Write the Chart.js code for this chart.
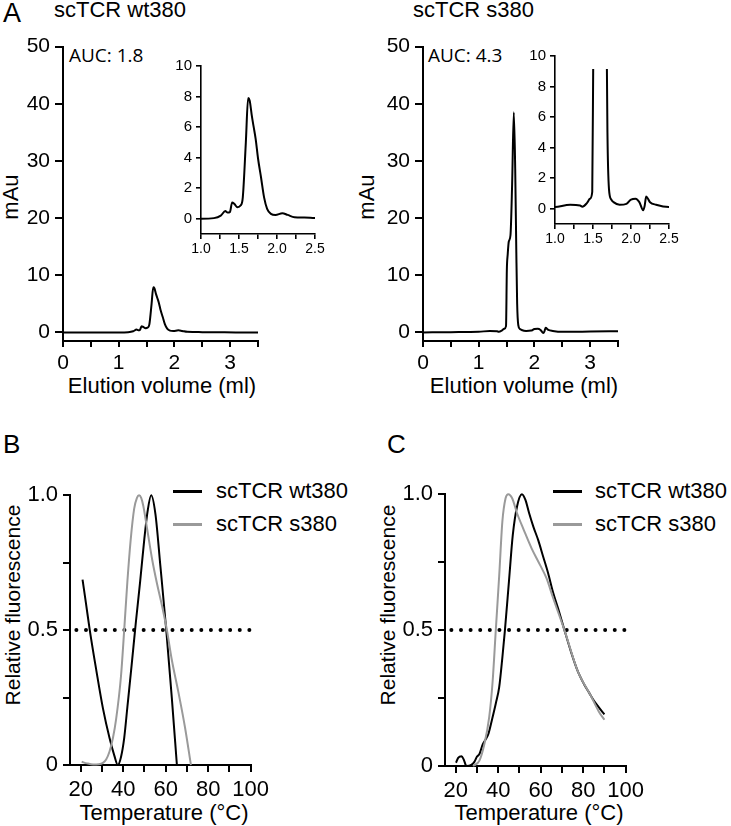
<!DOCTYPE html>
<html>
<head>
<meta charset="utf-8">
<script src="https://cdn.jsdelivr.net/npm/chart.js@4"></script>
<style>
  body { margin: 0; background: #fff; width: 731px; height: 826px; position: relative; overflow: hidden;
         font-family: "Liberation Sans", Arial, sans-serif; color: #000; }
  canvas { position: absolute; }
  .t { position: absolute; white-space: nowrap; line-height: 1; }
  .c { transform: translateX(-50%); }
  .r { transform: translate(-50%, -50%) rotate(-90deg); }
  .auc { font-family: "Open Sans", sans-serif; font-size: 19px; }
  .leg { position: absolute; height: 3px; width: 29px; }
</style>
</head>
<body>

<div class="t" style="left:3px;top:0px;font-size:27px">A</div>
<div class="t" style="left:54px;top:-1px;font-size:22px">scTCR wt380</div>
<div class="t" style="left:413px;top:-1px;font-size:22px">scTCR s380</div>
<div class="t auc" style="left:69px;top:46px">AUC: 1.8</div>
<div class="t auc" style="left:428px;top:46px">AUC: 4.3</div>
<div class="t r" style="left:10.5px;top:197px;font-size:22px">mAu</div>
<div class="t r" style="left:367px;top:197px;font-size:22px">mAu</div>
<div class="t c" style="left:162px;top:375px;font-size:22px">Elution volume (ml)</div>
<div class="t c" style="left:524px;top:375px;font-size:22px">Elution volume (ml)</div>

<div class="t" style="left:3px;top:431px;font-size:26px">B</div>
<div class="t" style="left:387px;top:431px;font-size:26px">C</div>
<div class="t r" style="left:12px;top:605px;font-size:21px">Relative fluorescence</div>
<div class="t r" style="left:387px;top:605px;font-size:21px">Relative fluorescence</div>
<div class="t c" style="left:164px;top:802px;font-size:22px">Temperature (°C)</div>
<div class="t c" style="left:539px;top:802px;font-size:22px">Temperature (°C)</div>

<div class="leg" style="left:173px;top:490px;background:#000"></div>
<div class="leg" style="left:173px;top:523px;background:#9a9a9a"></div>
<div class="t" style="left:216px;top:480px;font-size:22px">scTCR wt380</div>
<div class="t" style="left:216px;top:513px;font-size:22px">scTCR s380</div>
<div class="leg" style="left:553px;top:490px;background:#000"></div>
<div class="leg" style="left:553px;top:523px;background:#9a9a9a"></div>
<div class="t" style="left:595px;top:480px;font-size:22px">scTCR wt380</div>
<div class="t" style="left:595px;top:513px;font-size:22px">scTCR s380</div>

<script>
/* chromatograms (panel A) */
const elutionWt = [0, 0.2, 0.5, 0.8, 1.0, 1.17, 1.26, 1.32, 1.35, 1.38, 1.41, 1.44, 1.48, 1.52, 1.55, 1.59, 1.62, 1.64, 1.67, 1.69, 1.72, 1.75, 1.79, 1.83, 1.87, 1.92, 1.98, 2.07, 2.14, 2.23, 2.36, 2.5, 2.8, 3.1, 3.5];
const mAuWt     = [0, 0, 0, 0, 0, 0.04, 0.2, 0.5, 0.4, 0.43, 1.07, 0.96, 0.75, 0.86, 1.4, 5.0, 7.9, 7.75, 6.7, 6.1, 5.2, 3.96, 2.7, 1.4, 0.65, 0.32, 0.25, 0.36, 0.25, 0.1, 0.08, 0.04, 0.02, 0, 0];

const elutionS = [0, 0.5, 1.0, 1.2, 1.33, 1.36, 1.42, 1.46, 1.49, 1.505, 1.52, 1.54, 1.57, 1.6, 1.63, 1.655, 1.675, 1.69, 1.71, 1.74, 1.77, 1.85, 1.94, 2.0, 2.06, 2.11, 2.16, 2.18, 2.2, 2.25, 2.33, 2.5, 3.0, 3.5];
const mAuS     = [0, 0.05, 0.11, 0.26, 0.21, 0.13, 0.37, 0.65, 1.1, 11, 13.6, 15.9, 17, 26, 38.5, 28.6, 14, 5, 1.3, 0.6, 0.43, 0.26, 0.32, 0.6, 0.65, 0.43, -0.1, 0.2, 0.8, 0.43, 0.26, 0.11, 0.15, 0.2];

/* thermal shift (panel B) */
const tempBWt = [20.9, 22.5, 24.3, 27.4, 30.5, 33.6, 35.9, 37.5, 39, 40.5, 42, 44, 46, 48, 50, 51.5, 53.2, 55.2, 57.5, 60.3, 62.9, 65.3];
const fluoBWt = [0.687, 0.6, 0.5, 0.35, 0.21, 0.1, 0.034, 0, 0.03, 0.1, 0.215, 0.37, 0.53, 0.68, 0.84, 0.94, 1.0, 0.93, 0.74, 0.5, 0.25, 0];
const tempBS = [20.5, 23, 25.9, 28.5, 30.5, 32, 33.6, 35.2, 36.7, 39, 40.5, 42, 43.5, 45.2, 46.5, 47.5, 48.5, 49.5, 51.4, 53.7, 56, 58.3, 60.6, 62.9, 66, 69.1, 71.9];
const fluoBS = [0.012, 0.006, 0.002, 0.003, 0.008, 0.02, 0.05, 0.1, 0.17, 0.33, 0.5, 0.68, 0.83, 0.95, 0.99, 1.0, 0.99, 0.96, 0.87, 0.76, 0.67, 0.59, 0.5, 0.39, 0.27, 0.14, 0];

/* thermal shift (panel C) */
const tempCWt = [20.2, 21.2, 22.8, 23.8, 25.1, 27.4, 28.9, 30, 31.2, 32.8, 34.3, 35.5, 37.1, 38.9, 40.5, 42, 43.2, 45.1, 46.9, 48.9, 51.2, 52.8, 54.6, 56.6, 58.9, 61.2, 63.5, 65.8, 68.2, 71.2, 74.3, 77.4, 80.5, 82.8, 85.1, 87.4, 90];
const fluoCWt = [0.012, 0.03, 0.036, 0.024, 0, 0.004, 0.016, 0.034, 0.044, 0.08, 0.1, 0.12, 0.17, 0.23, 0.29, 0.4, 0.5, 0.68, 0.85, 0.955, 1.0, 0.98, 0.93, 0.88, 0.83, 0.77, 0.71, 0.64, 0.58, 0.5, 0.42, 0.35, 0.3, 0.27, 0.24, 0.216, 0.19];
const tempCS = [28.2, 31.2, 33.5, 35.8, 37.4, 38.9, 40.5, 42, 43.5, 44.8, 46.6, 48.9, 52, 55.8, 59.7, 62.8, 65.8, 71.2, 77.4, 83.5, 87.4, 90];
const fluoCS = [0, 0.02, 0.08, 0.18, 0.31, 0.5, 0.7, 0.9, 0.985, 1.0, 0.985, 0.93, 0.87, 0.8, 0.74, 0.69, 0.62, 0.5, 0.35, 0.26, 0.2, 0.17];

const halfLineX = [18, 100];
const halfLineY = [0.5, 0.5];

const GRAY = "#9a9a9a";
const FONT = "Liberation Sans";

function range(a, b, step) {
  const out = [];
  for (let v = a; v <= b + 1e-9; v += step) out.push(Math.round(v * 1000) / 1000);
  return out;
}

function series(xs, ys, color, extra) {
  return Object.assign({
    data: xs.map((x, i) => ({ x: x, y: ys[i] })),
    borderColor: color,
    borderWidth: 2,
    pointRadius: 0,
    fill: false,
    cubicInterpolationMode: "monotone"
  }, extra || {});
}

function axis(o) {
  return {
    type: "linear",
    min: o.min,
    max: o.max,
    afterBuildTicks: s => { s.ticks = o.ticks.map(v => ({ value: v })); },
    afterFit: s => { if (o.size) { if (s.isHorizontal()) s.height = o.size; else s.width = o.size; } },
    grid: { display: true, drawOnChartArea: false, drawTicks: true, tickLength: o.tick, color: "#000", lineWidth: o.lw },
    border: { display: true, color: "#000", width: o.lw },
    ticks: { autoSkip: false, maxRotation: 0, color: "#000", padding: o.pad,
             font: { family: FONT, size: o.font }, callback: o.label }
  };
}

function makeChart(box, datasets, xOpt, yOpt) {
  const c = document.createElement("canvas");
  const w = Math.round(box.R - box.L + box.yW + box.pr);
  const h = Math.round(box.B - box.T + box.pt + box.xH);
  c.width = w; c.height = h;
  c.style.width = w + "px"; c.style.height = h + "px";
  c.style.left = Math.round(box.L - box.yW) + "px";
  c.style.top = Math.round(box.T - box.pt) + "px";
  document.body.appendChild(c);
  xOpt.size = box.xH; yOpt.size = box.yW;
  return new Chart(c, {
    type: "line",
    data: { datasets: datasets },
    options: {
      responsive: false, animation: false, events: [],
      layout: { padding: { left: 0, top: box.pt, right: box.pr, bottom: 0 } },
      plugins: { legend: { display: false }, tooltip: { enabled: false } },
      scales: { x: axis(xOpt), y: axis(yOpt) }
    }
  });
}

const intLabel = v => (Math.abs(v - Math.round(v)) < 1e-6 ? String(Math.round(v)) : "");
const halfLabel = v => (Math.abs(v * 2 - Math.round(v * 2)) < 1e-6 ? v.toFixed(1) : "");
const tempLabel = v => (v % 20 === 0 ? String(v) : "");
const fluoLabel = v => (v === 0 ? "0" : v === 0.5 ? "0.5" : v === 1 ? "1.0" : "");

/* main chromatograms */
function mainChrom(L, xs, ys) {
  makeChart({ L: L, T: 43, R: L + 195, B: 341, yW: 62, xH: 32, pt: 14, pr: 14 },
    [series(xs, ys, "#000", { clip: 4 })],
    { min: 0, max: 3.5, ticks: range(0, 3.5, 0.5), tick: 6, pad: 4, font: 21, lw: 2, label: intLabel },
    { min: -1.5, max: 50, ticks: range(0, 50, 10), tick: 8, pad: 5, font: 21, lw: 2, label: v => String(v) });
}
mainChrom(63, elutionWt, mAuWt);
mainChrom(423, elutionS, mAuS);

/* insets */
function inset(L, T, xs, ys, clipTop) {
  const B = T + 170.5;
  makeChart({ L: L, T: T, R: L + 113.5, B: B, yW: 36, xH: 26, pt: 10, pr: 14 },
    [series(xs, ys, "#000", { clip: { left: 0, right: 0, bottom: 0, top: clipTop } })],
    { min: 1, max: 2.5, ticks: range(1, 2.5, 0.25), tick: 5, pad: 2, font: 14, lw: 1.6, label: halfLabel },
    { min: -1, max: 10, ticks: range(0, 10, 2), tick: 5, pad: 4, font: 15, lw: 1.6, label: v => String(v) });
}
inset(201, 63, elutionWt, mAuWt, 0);
inset(555, 53, elutionS, mAuS, -13);

/* thermal shift panels */
function melt(L, T, B, xw, yw, xs2, ys2) {
  const dotted = series(halfLineX, halfLineY, "#000",
    { borderWidth: 4, borderDash: [0.01, 9.6], borderCapStyle: "round", clip: 6 });
  makeChart({ L: L, T: T, R: L + 184, B: B, yW: 50, xH: 32, pt: 14, pr: 20 },
    [series(xs2, ys2, GRAY, { clip: 4 }), series(xw, yw, "#000", { clip: 4 }), dotted],
    { min: 15, max: 100, ticks: range(20, 100, 10), tick: 7, pad: 5, font: 22, lw: 2, label: tempLabel },
    { min: 0, max: 1, ticks: range(0, 1, 0.25), tick: 7, pad: 5, font: 22, lw: 2, label: fluoLabel });
}
melt(70, 491, 765, tempBWt, fluoBWt, tempBS, fluoBS);
melt(445, 490, 766, tempCWt, fluoCWt, tempCS, fluoCS);
</script>
</body>
</html>
